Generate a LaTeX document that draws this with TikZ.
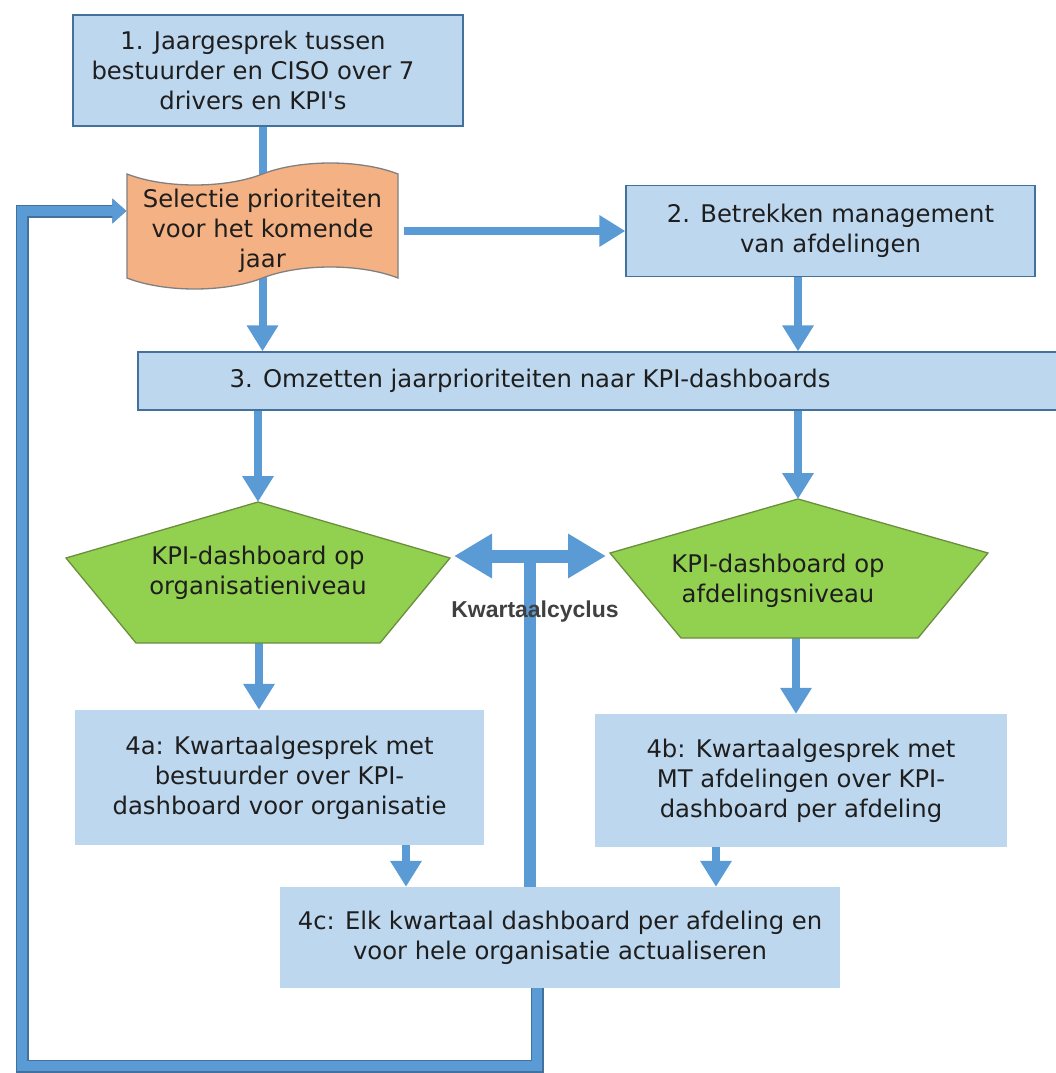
\documentclass[tikz,border=0pt]{standalone}
\usepackage{fontspec}
\setmainfont{DejaVu Sans}[Ligatures=TeXOff]
\newfontfamily\cyclusfont{Liberation Sans}
\usetikzlibrary{arrows.meta,positioning,shapes.symbols,backgrounds}
\definecolor{lineblue}{HTML}{5B9BD5}
\definecolor{edgeblue}{HTML}{41719C}
\definecolor{boxblue}{HTML}{BDD7EE}
\definecolor{kpigreen}{HTML}{92D050}
\definecolor{kpiedge}{HTML}{6B8E3E}
\definecolor{selorange}{HTML}{F4B183}
\definecolor{inktext}{HTML}{1E1E1E}

\begin{document}
\begin{tikzpicture}[x=1pt, y=-1pt, every node/.style={font=\fontsize{24.3}{30}\selectfont, text=inktext, align=center}, box/.style={draw=edgeblue, line width=1.3pt, fill=boxblue, inner sep=0pt}, quarter/.style={fill=boxblue, inner sep=0pt}, penta/.style={draw=kpiedge, line width=1.3pt, fill=kpigreen}, link/.style={line width=8pt, draw=lineblue}, arrow/.style={link, -{Triangle[length=26pt, width=30pt]}}, dblarrow/.style={line width=13pt, draw=lineblue, {Triangle[length=38pt, width=42pt]}-{Triangle[length=38pt, width=42pt]}}, loopline/.style={line width=10pt, draw=lineblue, preaction={draw=edgeblue, line width=13pt}, -{Triangle[length=14pt, width=24pt]}}]
\useasboundingbox (0,0) rectangle (1056,1073);
\node[box, minimum width=390pt, minimum height=111pt, label={[xshift=-15pt]center:1. Jaargesprek tussen\\bestuurder en CISO over 7\\drivers en KPI's}] (jaar) at (268,70.5) {};
\node[tape, draw=gray, line width=1.3pt, fill=selorange, minimum width=271pt, minimum height=126pt, tape bend height=22pt, inner sep=0pt, label={[yshift=-5pt]center:Selectie prioriteiten\\voor het komende\\jaar}] (sel) at (262.5,226) {};
\node[box, minimum width=409pt, minimum height=91pt] (mgmt) at (830.5,231) {2. Betrekken management\\van afdelingen};
\node[box, minimum width=930pt, minimum height=58pt, label={[xshift=-73pt]center:3. Omzetten jaarprioriteiten naar KPI-dashboards}] (omzet) at (603,381) {};
\draw[penta] (258,502) coordinate (orgtop) -- (450,558) coordinate (orgright) -- (380,643) -- (136,643) -- (66,558) -- cycle;
\draw[penta] (798,499) coordinate (afdtop) -- (988,553) -- (918,638) -- (681,638) -- (610,553) coordinate (afdleft) -- cycle;
\node (org) at (258,573) {KPI-dashboard op\\organisatieniveau};
\node (afd) at (778,581) {KPI-dashboard op\\afdelingsniveau};
\node[quarter, minimum width=409pt, minimum height=135pt] (org4a) at (279.5,777.5) {4a: Kwartaalgesprek met\\bestuurder over KPI-\\dashboard voor organisatie};
\node[quarter, minimum width=412pt, minimum height=133pt] (afd4b) at (801,780.5) {4b: Kwartaalgesprek met\\MT afdelingen over KPI-\\dashboard per afdeling};
\node[quarter, minimum width=560pt, minimum height=101pt] (upd4c) at (560,937.5) {4c: Elk kwartaal dashboard per afdeling en\\voor hele organisatie actualiseren};
\node[font=\cyclusfont\bfseries\fontsize{23}{27}\selectfont, text=black!75] (cyclus) at (535,612) {Kwartaalcyclus};
\coordinate (orgbot) at (259,643); \coordinate (afdbot) at (796,638); \coordinate (rcol) at (798,0); \coordinate (lcol) at (406,0); \coordinate (mcol) at (716,0);
\coordinate (cyc) at (530,556); \coordinate (cyclow) at (537,0); \coordinate (loopbot) at (22,1066);
\begin{pgfonlayer}{background}
\draw[arrow] (jaar.south -| sel) -- (omzet.north -| sel); \draw[arrow] ([xshift=5pt]sel.east |- mgmt.west) -- (mgmt.west); \draw[arrow] (mgmt.south -| rcol) -- (omzet.north -| rcol);
\draw[arrow] (omzet.south -| orgtop) -- (orgtop); \draw[arrow] (omzet.south -| afdtop) -- (afdtop);
\draw[arrow] (orgbot) -- (org4a.north -| orgbot); \draw[arrow] (afdbot) -- (afd4b.north -| afdbot);
\draw[arrow] (org4a.south -| lcol) -- (upd4c.north -| lcol); \draw[arrow] (afd4b.south -| mcol) -- (upd4c.north -| mcol);
\draw[link, line width=12pt] (upd4c.north -| cyc) -- (cyc); \draw[dblarrow, shorten <=4pt, shorten >=4pt] (orgright |- cyc) -- (afdleft |- cyc);
\draw[loopline] (upd4c.south -| cyclow) |- (loopbot) |- ([yshift=15pt]sel.west);
\end{pgfonlayer}
\end{tikzpicture}
\end{document}
